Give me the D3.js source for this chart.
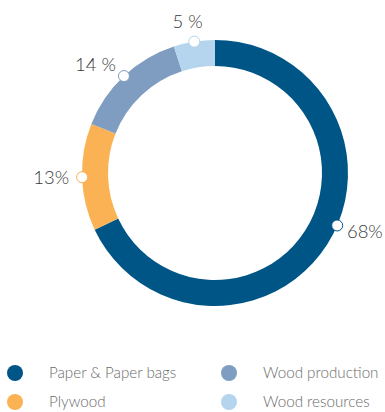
<!DOCTYPE html>
<html>
<head>
<meta charset="utf-8">
<script src="https://cdn.jsdelivr.net/npm/d3@7"></script>
<style>
  body { margin: 0; background: #fff; }
  text { font-family: Lato, "Open Sans", sans-serif; }
</style>
</head>
<body>
<svg width="385" height="412"></svg>
<script>
const categories = ["Paper & Paper bags", "Plywood", "Wood production", "Wood resources"];
const values = [68, 13, 14, 5];
const labels = ["68%", "13%", "14 %", "5 %"];
const colors = ["#005587", "#fbb254", "#7f9dc0", "#b5d4ee"];

const svg = d3.select("svg");
const cx = 215, cy = 173;
const outerR = 133, innerR = 107;

const data = categories.map((c, i) => ({ name: c, value: values[i], label: labels[i], color: colors[i] }));

const pie = d3.pie().value(d => d.value).sort(null);
const arcs = pie(data);
const arc = d3.arc().innerRadius(innerR).outerRadius(outerR);

const g = svg.append("g").attr("transform", "translate(" + cx + "," + cy + ")");

g.selectAll("path.slice").data(arcs).enter().append("path")
  .attr("class", "slice")
  .attr("d", arc)
  .attr("fill", d => d.data.color);

function polar(a, r) { return [Math.sin(a) * r, -Math.cos(a) * r]; }

arcs.forEach((d, i) => {
  let mid = (d.startAngle + d.endAngle) / 2;
  if (i === 0) mid -= 0.16; // big slice: marker pulled up a bit like the original
  const [mx, my] = polar(mid, outerR);
  g.append("circle")
    .attr("cx", mx).attr("cy", my).attr("r", 5.5)
    .attr("fill", "#fff")
    .attr("stroke", d.data.color)
    .attr("stroke-width", 1);

  const [lx, ly] = polar(mid, outerR + 16);
  const s = Math.sin(mid);
  let anchor = "middle";
  if (s > 0.5) anchor = "start";
  else if (s < -0.5) anchor = "end";
  g.append("text")
    .attr("x", lx + (anchor === "start" ? -5 : anchor === "end" ? 3 : -4))
    .attr("y", ly + (anchor === "middle" ? -4 : 0))
    .attr("dy", "0.35em")
    .attr("text-anchor", anchor)
    .attr("fill", "#3a3a3a")
    .attr("font-size", 18.5)
    .attr("font-weight", 300)
    .text(d.data.label);
});

// legend, two columns
const legend = svg.append("g");
data.forEach((d, i) => {
  const col = Math.floor(i / 2), row = i % 2;
  const x = 15 + col * 214, y = 373 + row * 29;
  legend.append("circle").attr("cx", x).attr("cy", y).attr("r", 8).attr("fill", d.color);
  legend.append("text")
    .attr("x", x + 34).attr("y", y)
    .attr("dy", "0.35em")
    .attr("fill", "#6a6a6a")
    .attr("font-size", 15.2)
    .attr("font-weight", 300)
    .text(d.name);
});
</script>
</body>
</html>
